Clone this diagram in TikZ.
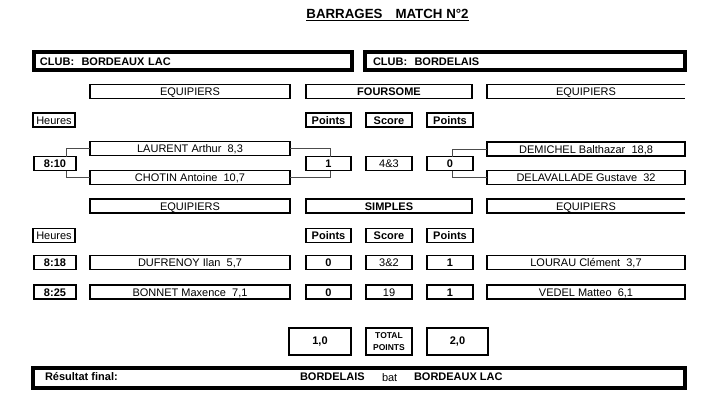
\documentclass[tikz,border=0pt]{standalone}
\usepackage{fontspec}
\setmainfont{Liberation Sans}
\begin{document}
\begin{tikzpicture}[x=1bp,y=-1bp,
  every node/.style={inner sep=0pt, outer sep=0pt, font=\fontsize{11bp}{13bp}\selectfont},
  bf/.style={font=\fontsize{11bp}{13bp}\selectfont\bfseries},
  box/.style={draw, line width=1.8bp, minimum height=14bp, text height=8bp, text depth=0bp, align=center},
  namebox/.style={box, minimum width=200bp},
  rnamebox/.style={box, minimum width=198bp},
  ptbox/.style={box, bf, minimum width=46bp},
  scorebox/.style={box, minimum width=46bp},
  timebox/.style={box, bf, minimum width=42bp, line width=1.6bp},
  heurebox/.style={box, minimum width=42bp, line width=1.6bp},
  headbox/.style={box, bf, minimum width=166bp},
  openbox/.style={minimum width=198bp, minimum height=14bp, text height=8bp, text depth=0bp},
  openline/.style={line width=1.8bp},
  clubbox/.style={draw, line width=4bp, minimum height=18bp, text height=8bp, text depth=0bp, bf, align=left},
  totbox/.style={draw, line width=2.5bp, minimum height=27bp, bf},
  link/.style={draw=black!70, line width=0.9bp},
  lbl/.style={anchor=base west, bf}
]
\useasboundingbox (0,0) rectangle (712,402);

% title
\node[anchor=base, font=\fontsize{13.3bp}{15bp}\selectfont\bfseries] (title) at (387.5,18) {BARRAGES\hspace{13bp}MATCH N°2};
\draw[line width=1.3bp] ([yshift=-2.5bp]title.base west) -- ([yshift=-2.5bp]title.base east);

% clubs
\node[clubbox, minimum width=318bp, text width=306bp, inner xsep=6bp] (clubL) at (193,61) {CLUB:\ \ BORDEAUX LAC};
\node[clubbox, minimum width=320bp, text width=304bp, inner xsep=8bp] (clubR) at (525,61) {CLUB:\ \ BORDELAIS};

% header row 1
\node[namebox] (eq1L) at (190,91.5) {EQUIPIERS};
\node[headbox] (fours) at (389,91.5) {FOURSOME};
\node[openbox] (eq1R) at (586,91.5) {EQUIPIERS};
\draw[openline] (eq1R.north east) -- (eq1R.north west) -- (eq1R.south west) -- (eq1R.south east);

\node[heurebox] (h1) at (54,120) {Heures};
\node[ptbox, minimum width=45bp] (p1L) at (328.5,120) {Points};
\node[ptbox] (sc1) at (389,120) {Score};
\node[ptbox] (p1R) at (450,120) {Points};

% foursome
\node[namebox] (laurent) at (190,148.5) {LAURENT Arthur\ \ 8,3};
\node[namebox] (chotin) at (190,177.5) {CHOTIN Antoine\ \ 10,7};
\node[timebox] (t810) at (55,163.5) {8:10};
\node[ptbox, minimum width=45bp] (pts1) at (328.5,163.5) {1};
\node[scorebox] (s43) at (389,163.5) {4\&3};
\node[ptbox] (pts0) at (450,163.5) {0};
\node[rnamebox] (demichel) at (586,149) {DEMICHEL Balthazar\ \ 18,8};
\node[rnamebox] (delav) at (586,177.5) {DELAVALLADE Gustave\ \ 32};

\draw[link] ([xshift=11bp]t810.north) |- (laurent.west);
\draw[link] ([xshift=11bp]t810.south) |- (chotin.west);
\draw[link] (laurent.east) -| ([xshift=1.5bp]pts1.north);
\draw[link] (chotin.east) -| ([xshift=1.5bp]pts1.south);
\draw[link] ([xshift=2bp]pts0.north) |- (demichel.west);
\draw[link] ([xshift=2bp]pts0.south) |- (delav.west);

% header row 2
\node[namebox] (eq2L) at (190,206) {EQUIPIERS};
\node[headbox] (simp) at (389,206) {SIMPLES};
\node[openbox] (eq2R) at (586,206) {EQUIPIERS};
\draw[openline] (eq2R.north east) -- (eq2R.north west) -- (eq2R.south west) -- (eq2R.south east);

\node[heurebox] (h2) at (54,235.5) {Heures};
\node[ptbox, minimum width=45bp] (p2L) at (328.5,235.5) {Points};
\node[ptbox] (sc2) at (389,235.5) {Score};
\node[ptbox] (p2R) at (450,235.5) {Points};

% simples
\node[timebox] (t818) at (55,262.5) {8:18};
\node[namebox] (dufr) at (190,262.5) {DUFRENOY Ilan\ \ 5,7};
\node[ptbox, minimum width=45bp] (pa) at (328.5,262.5) {0};
\node[scorebox] (s32) at (389,262.5) {3\&2};
\node[ptbox] (pb) at (450,262.5) {1};
\node[rnamebox] (lourau) at (586,262.5) {LOURAU Clément\ \ 3,7};

\node[timebox] (t825) at (55,292) {8:25};
\node[namebox] (bonnet) at (190,292) {BONNET Maxence\ \ 7,1};
\node[ptbox, minimum width=45bp] (pc) at (328.5,292) {0};
\node[scorebox] (s19) at (389,292) {19};
\node[ptbox] (pd) at (450,292) {1};
\node[rnamebox] (vedel) at (586,292) {VEDEL Matteo\ \ 6,1};

% totals
\node[totbox, minimum width=62bp] (tot1) at (320,341.5) {1,0};
\node[totbox, minimum width=46bp, align=center, font=\fontsize{8.5bp}{11.5bp}\selectfont\bfseries] (totp) at (389,341.5) {TOTAL\\POINTS};
\node[totbox, minimum width=61bp] (tot2) at (457.5,341.5) {2,0};

% final
\node[draw, line width=3.5bp, minimum width=652bp, minimum height=20bp] (final) at (359,378) {};
\node[lbl] (rf) at (45,380) {Résultat final:};
\node[lbl] (win) at (300,380) {BORDELAIS};
\node[anchor=base west] (bat) at (382,381.5) {bat};
\node[lbl] (lose) at (414,380) {BORDEAUX LAC};
\end{tikzpicture}
\end{document}
